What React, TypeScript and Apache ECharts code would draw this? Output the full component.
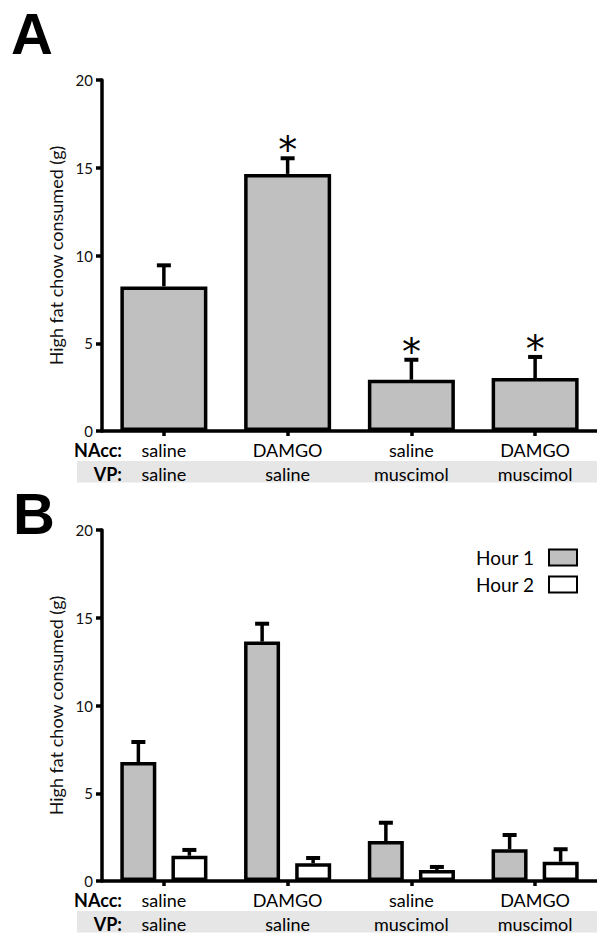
import React, { useEffect, useRef } from "react";
import * as echarts from "echarts";

// ---- data ----
const naccLabels = ["saline", "DAMGO", "saline", "DAMGO"];
const vpLabels = ["saline", "saline", "muscimol", "muscimol"];
const rowTitles = ["NAcc:", "VP:"];
const panelLetters = ["A", "B"];
const yAxisTitle = "High fat chow consumed (g)";
const yMin = 0;
const yMax = 20;
const yInterval = 5;

// Panel A
const meanA = [8.24, 14.65, 2.92, 3.02];
const semA = [1.2, 0.89, 1.14, 1.2];
const sigA = [false, true, true, true];

// Panel B
const seriesNames = ["Hour 1", "Hour 2"];
const hour1Mean = [6.78, 13.64, 2.28, 1.81];
const hour1Sem = [1.14, 1.02, 1.04, 0.81];
const hour2Mean = [1.44, 1.01, 0.63, 1.1];
const hour2Sem = [0.33, 0.3, 0.17, 0.71];

const categories = naccLabels.map((n, i) => n + "\n" + vpLabels[i]);

const FONT = "Lato";

const errRender = (offset: number, stars?: boolean[]) => (params: any, api: any) => {
  const i = api.value(0);
  const m = api.value(1);
  const hi = api.value(2);
  const p0 = api.coord([i, m]);
  const p1 = api.coord([i, hi]);
  const cx = p0[0] + offset;
  const children: any[] = [
    { type: "line", shape: { x1: cx, y1: p0[1], x2: cx, y2: p1[1] }, style: { stroke: "#000", lineWidth: 3.5 } },
    { type: "line", shape: { x1: cx - 7, y1: p1[1], x2: cx + 7, y2: p1[1] }, style: { stroke: "#000", lineWidth: 4 } },
  ];
  if (stars && stars[params.dataIndex]) {
    children.push({
      type: "text",
      x: cx,
      y: p1[1] - 8,
      style: { text: "*", font: '38px "DejaVu Sans"', fill: "#000", align: "center", verticalAlign: "middle" },
    });
  }
  return { type: "group", children };
};

const errData = (mean: number[], sem: number[]) => mean.map((m, i) => [i, m, m + sem[i]]);

const makeY = (gridIndex: number) => ({
  type: "value",
  gridIndex,
  min: yMin,
  max: yMax,
  interval: yInterval,
  name: yAxisTitle,
  nameLocation: "middle",
  nameGap: 29,
  nameTextStyle: { fontFamily: FONT, fontSize: 18, color: "#111" },
  axisLine: { show: true, lineStyle: { color: "#000", width: 3.5 } },
  axisTick: { show: true, length: 6, lineStyle: { color: "#000", width: 3.5 } },
  axisLabel: { fontFamily: FONT, fontSize: 15, color: "#111", margin: 9 },
  splitLine: { show: false },
});

const makeX = (gridIndex: number) => ({
  type: "category",
  gridIndex,
  data: categories,
  axisLine: { show: true, lineStyle: { color: "#000", width: 3.5 } },
  axisTick: { show: true, alignWithLabel: true, length: 5, lineStyle: { color: "#000", width: 3.5 } },
  axisLabel: { interval: 0, fontFamily: FONT, fontSize: 18, lineHeight: 24, color: "#000", margin: 7 },
});

const bandGraphics = (axisY: number) => [
  { type: "rect", z: -10, shape: { x: 77, y: axisY + 30, width: 520, height: 21.5 }, style: { fill: "#e6e6e6" } },
  {
    type: "text",
    x: 122,
    y: axisY + 19,
    style: { text: rowTitles[0], font: `bold 18px ${FONT}`, fill: "#000", align: "right", verticalAlign: "middle" },
  },
  {
    type: "text",
    x: 122,
    y: axisY + 43,
    style: { text: rowTitles[1], font: `bold 18px ${FONT}`, fill: "#000", align: "right", verticalAlign: "middle" },
  },
];

export default function App() {
  const ref = useRef<HTMLDivElement>(null);
  useEffect(() => {
    if (!ref.current) return;
    const chart = echarts.init(ref.current, null, { renderer: "svg" });
    const option: any = {
      animation: false,
      backgroundColor: "#fff",
      textStyle: { fontFamily: FONT },
      grid: [
        { left: 102, top: 80, width: 504, height: 351 },
        { left: 102, top: 530, width: 504, height: 351 },
      ],
      xAxis: [makeX(0), makeX(1)],
      yAxis: [makeY(0), makeY(1)],
      legend: {
        data: seriesNames,
        orient: "vertical",
        align: "right",
        right: 19,
        top: 548,
        padding: 0,
        itemWidth: 28,
        itemHeight: 16,
        itemGap: 8,
        selectedMode: false,
        icon: "rect",
        itemStyle: { borderWidth: 2, borderColor: "#000" },
        textStyle: { fontFamily: FONT, fontSize: 19, color: "#000", padding: [0, 10, 0, 0] },
      },
      graphic: [
        {
          type: "text",
          x: 11,
          y: 33,
          style: { text: panelLetters[0], font: 'bold 58px "Liberation Sans"', fill: "#000", verticalAlign: "middle" },
        },
        {
          type: "text",
          x: 13,
          y: 513,
          style: { text: panelLetters[1], font: 'bold 58px "Liberation Sans"', fill: "#000", verticalAlign: "middle" },
        },
        ...bandGraphics(431),
        ...bandGraphics(881),
      ],
      series: [
        {
          type: "bar",
          name: "A",
          xAxisIndex: 0,
          yAxisIndex: 0,
          data: meanA,
          barWidth: 87,
          itemStyle: { color: "#c0c0c0", borderColor: "#000", borderWidth: 3.5 },
        },
        {
          type: "custom",
          xAxisIndex: 0,
          yAxisIndex: 0,
          data: errData(meanA, semA),
          encode: { x: 0, y: [1, 2] },
          renderItem: errRender(0, sigA),
          z: 5,
        },
        {
          type: "bar",
          name: seriesNames[0],
          xAxisIndex: 1,
          yAxisIndex: 1,
          data: hour1Mean,
          barWidth: 36,
          barGap: "42%",
          itemStyle: { color: "#c0c0c0", borderColor: "#000", borderWidth: 3.5 },
        },
        {
          type: "bar",
          name: seriesNames[1],
          xAxisIndex: 1,
          yAxisIndex: 1,
          data: hour2Mean,
          barWidth: 36,
          barGap: "42%",
          itemStyle: { color: "#ffffff", borderColor: "#000", borderWidth: 3.5 },
        },
        {
          type: "custom",
          xAxisIndex: 1,
          yAxisIndex: 1,
          data: errData(hour1Mean, hour1Sem),
          encode: { x: 0, y: [1, 2] },
          renderItem: errRender(-25.5),
          z: 5,
        },
        {
          type: "custom",
          xAxisIndex: 1,
          yAxisIndex: 1,
          data: errData(hour2Mean, hour2Sem),
          encode: { x: 0, y: [1, 2] },
          renderItem: errRender(25.5),
          z: 5,
        },
      ],
    };
    chart.setOption(option);
    return () => chart.dispose();
  }, []);
  return (
    <div
      ref={ref}
      style={{ position: "absolute", left: 0, top: 0, width: 597, height: 936, background: "#fff" }}
    />
  );
}
